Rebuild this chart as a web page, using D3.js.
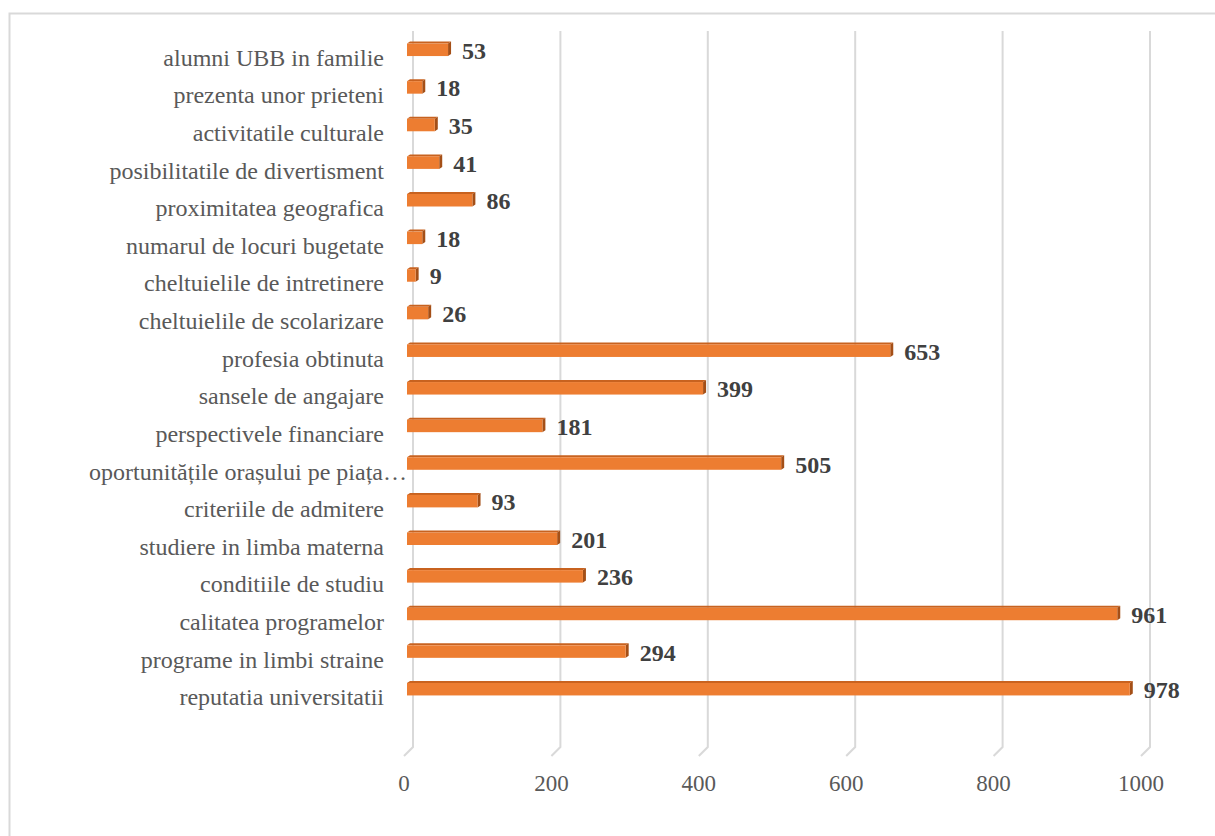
<!DOCTYPE html>
<html>
<head>
<meta charset="utf-8">
<script src="https://cdn.jsdelivr.net/npm/d3@7"></script>
<style>
  body { margin: 0; background: #fff; }
  svg text { font-family: "Liberation Serif", "Times New Roman", serif; }
</style>
</head>
<body>
<div id="chart"></div>
<script>
// categories listed bottom to top, as in the source sheet
const categories = [
    "reputatia universitatii",
    "programe in limbi straine",
    "calitatea programelor",
    "conditiile de studiu",
    "studiere in limba materna",
    "criteriile de admitere",
    "oportunitățile orașului pe piața…",
    "perspectivele financiare",
    "sansele de angajare",
    "profesia obtinuta",
    "cheltuielile de scolarizare",
    "cheltuielile de intretinere",
    "numarul de locuri bugetate",
    "proximitatea geografica",
    "posibilitatile de divertisment",
    "activitatile culturale",
    "prezenta unor prieteni",
    "alumni UBB in familie"
];
const values = [978, 294, 961, 236, 201, 93, 505, 181, 399, 653, 26, 9, 18, 86, 41, 35, 18, 53];
const xTicks = [0, 200, 400, 600, 800, 1000];

const width = 1215, height = 836;

const svg = d3.select("#chart")
    .append("svg")
    .attr("width", width)
    .attr("height", height);

// chart frame (right and bottom edges fall outside the picture)
svg.append("rect")
    .attr("x", 9.5).attr("y", 13.5)
    .attr("width", 1220).attr("height", 840)
    .attr("fill", "none")
    .attr("stroke", "#d9d9d9")
    .attr("stroke-width", 2);

const x = d3.scaleLinear().domain([0, 1000]).range([413, 1150]);
const y = d3.scaleBand().domain(categories).range([708, 31]);

const plotTop = 31, plotBottom = 747;
const floorDx = -9, floorDy = 9;

// gridlines with the slanted 3D floor foot
svg.append("g").selectAll("path")
    .data(xTicks)
    .enter().append("path")
    .attr("d", d => `M${x(d)},${plotTop}V${plotBottom}l${floorDx},${floorDy}`)
    .attr("fill", "none")
    .attr("stroke", "#d9d9d9")
    .attr("stroke-width", 2);

// tick labels
svg.append("g").selectAll("text")
    .data(xTicks)
    .enter().append("text")
    .attr("x", d => x(d) + floorDx)
    .attr("y", 791)
    .attr("text-anchor", "middle")
    .style("font-size", "23px")
    .style("fill", "#595959")
    .text(d => d);

// bars as 3D boxes
const depthX = 3, depthY = -2, barH = 12.5, frontShift = -5;
const data = categories.map((c, i) => ({ cat: c, val: values[i] }));

const bars = svg.append("g").selectAll("g")
    .data(data)
    .enter().append("g");

bars.each(function (d) {
    const g = d3.select(this);
    const yc = y(d.cat) + y.bandwidth() / 2;
    const x0 = x(0) + frontShift - 1;
    const x1 = x(d.val) + frontShift + 1;
    const top = yc - barH / 2, bot = yc + barH / 2;

    g.append("polygon")
        .attr("points", [[x0, top], [x0 + depthX, top + depthY], [x1 + depthX, top + depthY], [x1, top]].join(" "))
        .attr("fill", "#c8621f");
    g.append("polygon")
        .attr("points", [[x1, top], [x1 + depthX, top + depthY], [x1 + depthX, bot + depthY], [x1, bot]].join(" "))
        .attr("fill", "#a44f17");
    g.append("rect")
        .attr("x", x0)
        .attr("y", top)
        .attr("width", x1 - x0)
        .attr("height", barH)
        .attr("fill", "#ed7d31");
});

// value labels
bars.append("text")
    .attr("x", d => x(d.val) + 10)
    .attr("y", d => y(d.cat) + y.bandwidth() / 2 + 9)
    .style("font-size", "24px")
    .style("font-weight", "bold")
    .style("fill", "#404040")
    .text(d => d.val);

// category labels (the truncated one overflows toward the axis, as in the original)
svg.append("g").selectAll("text")
    .data(categories)
    .enter().append("text")
    .attr("x", d => d.endsWith("…") ? 407 : 384)
    .attr("y", d => y(d) + y.bandwidth() / 2 + 16)
    .attr("text-anchor", "end")
    .style("font-size", "24px")
    .style("fill", "#595959")
    .text(d => d);
</script>
</body>
</html>
